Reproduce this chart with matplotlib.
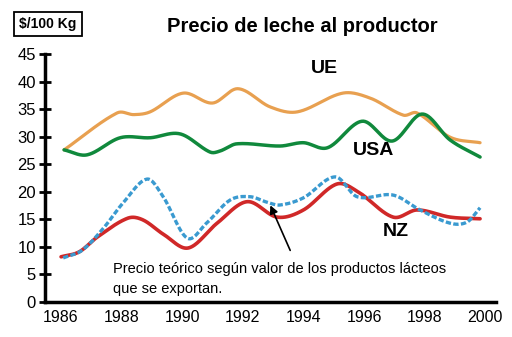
import numpy as np
import matplotlib
matplotlib.use("Agg")
import matplotlib.pyplot as plt

plt.rcParams['font.family'] = ['Liberation Sans', 'DejaVu Sans']

# Data (year, $/100 Kg)
ue_years = [1986.1, 1987.85, 1988.4, 1988.94, 1990.03, 1991.0, 1991.84, 1992.9, 1993.8,
            1995.3, 1996.2, 1997.3, 1997.75, 1998.84, 1999.83]
ue_vals = [27.6, 34.3, 34.0, 34.5, 37.9, 36.1, 38.7, 35.4, 34.5,
           37.9, 37.0, 33.9, 34.3, 29.9, 28.9]

usa_years = [1986.1, 1986.86, 1987.95, 1988.94, 1989.93, 1990.92, 1991.25, 1991.8, 1993.23,
             1994.0, 1994.8, 1995.94, 1996.93, 1997.92, 1998.84, 1999.83]
usa_vals = [27.6, 26.7, 29.8, 29.8, 30.5, 27.2, 27.4, 28.7, 28.3,
            28.9, 28.0, 32.8, 29.2, 34.1, 29.4, 26.3]

nz_years = [1986.0, 1986.6, 1987.2, 1988.2, 1988.7, 1989.4, 1990.2, 1991.15, 1992.14,
            1993.13, 1994.0, 1995.1, 1995.8, 1996.96, 1997.75, 1998.84, 1999.83]
nz_vals = [8.2, 9.1, 11.8, 15.2, 14.9, 12.2, 9.8, 14.3, 18.2,
           15.4, 16.7, 21.4, 20.0, 15.4, 16.7, 15.4, 15.1]

teo_years = [1986.07, 1986.7, 1987.4, 1988.05, 1988.84, 1989.37, 1990.16, 1990.8, 1991.58,
             1992.24, 1992.8, 1993.23, 1994.0, 1995.05, 1995.77, 1996.96, 1997.85,
             1998.84, 1999.4, 1999.83]
teo_vals = [8.0, 9.4, 13.4, 18.0, 22.3, 19.1, 11.6, 14.3, 18.5,
            19.1, 18.1, 17.6, 18.9, 22.7, 19.1, 19.4, 16.7,
            14.3, 14.5, 17.1]

x_ticks = [1986, 1988, 1990, 1992, 1994, 1996, 1998, 2000]
y_ticks = [0, 5, 10, 15, 20, 25, 30, 35, 40, 45]


def smooth(xs, ys, n=500):
    """Monotone-ish Catmull-Rom curve through the read points (rendering only)."""
    x = np.asarray(xs, float)
    y = np.asarray(ys, float)
    m = len(x)
    # tangents (centripetal-ish finite differences)
    d = np.zeros(m)
    d[0] = (y[1] - y[0]) / (x[1] - x[0])
    d[-1] = (y[-1] - y[-2]) / (x[-1] - x[-2])
    for i in range(1, m - 1):
        d[i] = (y[i + 1] - y[i - 1]) / (x[i + 1] - x[i - 1])
    xx = np.linspace(x[0], x[-1], n)
    idx = np.clip(np.searchsorted(x, xx) - 1, 0, m - 2)
    h = x[idx + 1] - x[idx]
    t = (xx - x[idx]) / h
    h00 = 2 * t ** 3 - 3 * t ** 2 + 1
    h10 = t ** 3 - 2 * t ** 2 + t
    h01 = -2 * t ** 3 + 3 * t ** 2
    h11 = t ** 3 - t ** 2
    yy = h00 * y[idx] + h10 * h * d[idx] + h01 * y[idx + 1] + h11 * h * d[idx + 1]
    return xx, yy


fig = plt.figure(figsize=(5.12, 3.37), dpi=100)
ax = fig.add_axes([0.0879, 0.1039, 0.969 - 0.0879, 0.8398 - 0.1039])

ax.plot(*smooth(ue_years, ue_vals), color='#E8A050', lw=2.3, solid_capstyle='round')
ax.plot(*smooth(usa_years, usa_vals), color='#10893C', lw=2.5, solid_capstyle='round')
ax.plot(*smooth(nz_years, nz_vals), color='#D02828', lw=2.6, solid_capstyle='round')
ax.plot(*smooth(teo_years, teo_vals), color='#3A9AD0', lw=2.4, dashes=(1.6, 0.7))

ax.set_xlim(1985.47, 2000.36)
ax.set_ylim(0, 45)
ax.set_xticks(x_ticks)
ax.set_yticks(y_ticks)
ax.tick_params(axis='x', length=0, labelsize=11.5, pad=6)
ax.tick_params(axis='y', direction='inout', length=9, width=2, labelsize=12, pad=2)
for s in ['top', 'right']:
    ax.spines[s].set_visible(False)
for s in ['left', 'bottom']:
    ax.spines[s].set_linewidth(2.5)

ax.text(1994.68, 42.3, 'UE', fontsize=14, fontweight='bold', ha='center', va='center')
ax.text(1996.3, 27.5, 'USA', fontsize=14, fontweight='bold', ha='center', va='center')
ax.text(1997.06, 12.7, 'NZ', fontsize=14, fontweight='bold', ha='center', va='center')

ax.annotate('', xy=(1992.87, 18.0), xytext=(1993.6, 8.9),
            arrowprops=dict(arrowstyle='-|>', color='black', lw=1.2, mutation_scale=12))
ax.text(1987.72, 6.0, 'Precio teórico según valor de los productos lácteos',
        fontsize=10.5, ha='left', va='center')
ax.text(1987.72, 2.4, 'que se exportan.', fontsize=10.5, ha='left', va='center')

fig.text(302 / 512, 1 - 27 / 337, 'Precio de leche al productor', fontsize=14.5,
         fontweight='bold', ha='center', va='center')
fig.text(48 / 512, 1 - 24 / 337, '$/100 Kg', fontsize=10, fontweight='bold',
         ha='center', va='center',
         bbox=dict(boxstyle='square,pad=0.35', facecolor='white', edgecolor='black', lw=1.3))

fig.savefig('out.png', dpi=100)
